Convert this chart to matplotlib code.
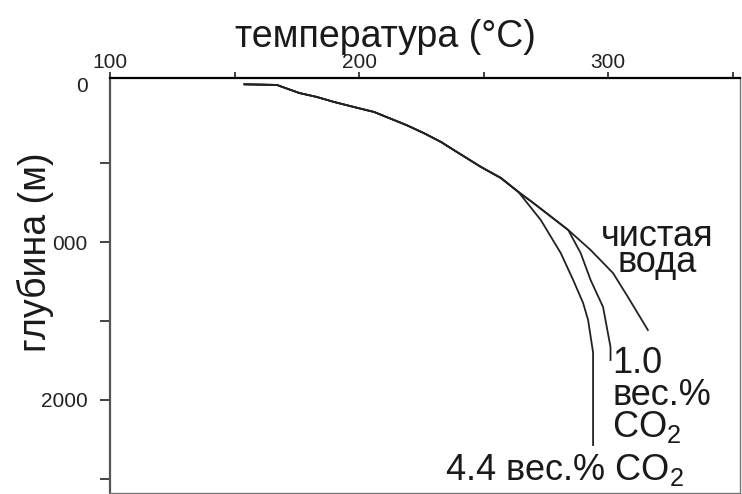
import matplotlib
matplotlib.use("Agg")
import matplotlib.pyplot as plt

plt.rcParams['font.family'] = ['Liberation Sans', 'DejaVu Sans']
plt.rcParams['mathtext.fontset'] = 'custom'
plt.rcParams['mathtext.rm'] = 'Liberation Sans'

# общий участок кривой (температура, глубина)
t_common = [154, 167, 176, 183, 190, 198, 206, 219, 226, 233, 238, 249, 257, 264]
d_common = [0, 4, 55, 80, 112, 144, 175, 258, 309, 366, 416, 524, 594, 682]

# чистая вода
t_water = [270, 284, 293, 302, 308, 316]
d_water = [752, 923, 1050, 1196, 1348, 1557]

# 1.0 вес.% CO2
t_co2_1 = [270, 284, 289, 293, 298, 301, 301]
d_co2_1 = [752, 923, 1069, 1240, 1411, 1665, 1747]

# 4.4 вес.% CO2
t_co2_4 = [273, 281, 286, 290, 292, 294, 294, 294]
d_co2_4 = [860, 1069, 1240, 1386, 1494, 1700, 1956, 2286]

x_ticks = [100, 200, 300]
x_minor = [150, 250, 350]
y_ticks = [0, 1000, 2000]
y_labels = ["0", "000", "2000"]
y_minor = [500, 1500, 2500]

fig = plt.figure(figsize=(7.42, 4.94), dpi=100)
ax = fig.add_axes([110 / 742, 1 / 494, 630 / 742, 415 / 494])

lc = '#222222'
ax.plot(t_common + t_water, d_common + d_water, color=lc, lw=1.3)
ax.plot(t_common + t_co2_1, d_common + d_co2_1, color=lc, lw=1.3)
ax.plot(t_common + t_co2_4, d_common + d_co2_4, color=lc, lw=1.3)

ax.set_xlim(100, 353)
ax.set_ylim(2590, -40)

ax.xaxis.tick_top()
ax.set_xticks(x_ticks)
ax.set_xticks(x_minor, minor=True)
ax.set_yticks(y_ticks)
ax.set_yticklabels(y_labels)
ax.set_yticks(y_minor, minor=True)

ax.tick_params(axis='x', which='both', direction='out', length=4, width=1.2,
               pad=0, labelsize=15, colors='#222222')
ax.tick_params(axis='y', which='both', direction='out', length=7, width=1.2,
               pad=9, labelsize=15, colors='#222222')
# у нуля засечки нет
ax.yaxis.get_major_ticks()[0].tick1line.set_visible(False)

ax.spines['top'].set_linewidth(1.6)
ax.spines['top'].set_color('black')
ax.spines['left'].set_linewidth(1.6)
ax.spines['left'].set_color('#555555')
ax.spines['right'].set_linewidth(1.0)
ax.spines['right'].set_color('#777777')
ax.spines['bottom'].set_linewidth(1.0)
ax.spines['bottom'].set_color('#777777')

fs = 26
tc = '#1a1a1a'
ax.text(319.7, 854, "чистая\nвода", fontsize=fs, ha='center', va='top',
        multialignment='center', linespacing=0.68, color=tc)
ax.text(301.6, 1659, "1.0\nвес.%\nCO$_\\mathregular{2}$", fontsize=fs, ha='left', va='top',
        multialignment='left', linespacing=0.88, color=tc)
ax.text(282.7, 2508, r"4.4 вес.% CO$_\mathregular{2}$", fontsize=fs, ha='center',
        va='baseline', color=tc)

fig.text(385 / 742, 1 - 47 / 494, "температура (°C)", fontsize=27, ha='center',
         va='baseline', color=tc)
fig.text(35 / 742, 1 - 252 / 494, "глубина (м)", fontsize=27, rotation=90, ha='center',
         va='center', color=tc)

fig.savefig("out.png", dpi=100)
